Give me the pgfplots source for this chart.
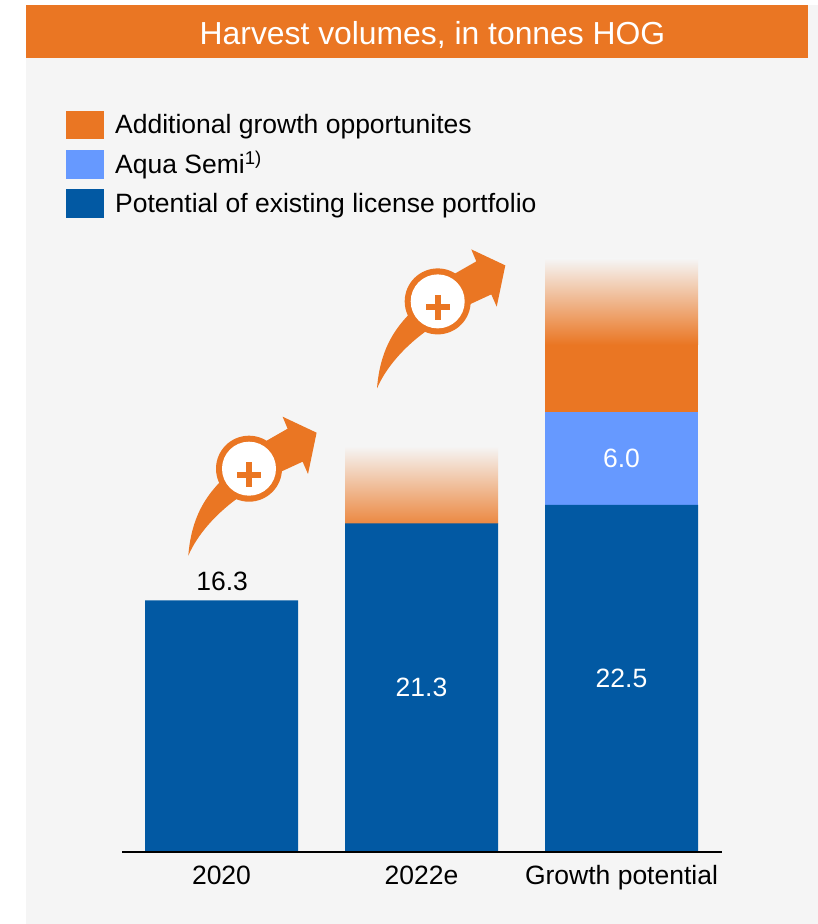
\documentclass[border=0pt]{standalone}
\usepackage{pgfplots}
\pgfplotsset{compat=1.18}
\usepackage{fontspec}
\setmainfont{Liberation Sans}
\definecolor{hvorange}{HTML}{EA7623}
\definecolor{hvblue}{HTML}{0259A3}
\definecolor{hvsky}{HTML}{6699FF}
\definecolor{hvpanel}{HTML}{F5F5F5}
\newcommand{\labelfont}{\fontsize{26.5}{30}\selectfont}
% Curved growth arrow with a plus badge, anchored at its tail tip
\newcommand{\growtharrow}[2]{%
  \begin{scope}[shift={(#1,#2)}]
    \fill[hvorange] (0,0)
      .. controls (3,38) and (17,58) .. (31,73)
      -- (60.7,87) -- (78.3,115) -- (99.3,127) -- (94.3,139) -- (128.3,123)
      -- (119.7,81.7) -- (114.3,94) -- (93.3,84.3) -- (47.7,56.3)
      .. controls (27,41) and (9,21) .. (0,0) -- cycle;
    \fill[hvorange] (60.7,87) circle[radius=33];
    \fill[white] (60.7,87) circle[radius=27];
    \fill[hvorange] (48.5,77.9) rectangle (72.9,84.1);
    \fill[hvorange] (57.6,68.8) rectangle (63.8,93.2);
  \end{scope}}
\pgfplotsset{hvframe/.style={
    at={(122pt,72pt)}, anchor=south west,
    scale only axis, width=600pt, height=664pt,
    xmin=-0.4975, xmax=2.5025, ymin=0, ymax=43.03}}
\begin{document}
\begin{tikzpicture}[x=1pt,y=1pt]
  \useasboundingbox (0,0) rectangle (818,924);
  \fill[white] (0,0) rectangle (818,924);
  \fill[hvpanel] (26,0) rectangle (818,919);
  \fill[hvorange] (26,866) rectangle (808,919);
  \node[anchor=base,inner sep=0,text=white,font=\fontsize{31.85}{36}\selectfont] at (432.5,879) {Harvest volumes, in tonnes HOG};

  % Legend
  \fill[hvorange] (66,784.5) rectangle (104,813);
  \fill[hvsky] (66,745) rectangle (104,774);
  \fill[hvblue] (66,706) rectangle (104,735);
  \node[anchor=base west,inner sep=0,font=\labelfont] at (115,790) {Additional growth opportunites};
  \node[anchor=base west,inner sep=0,font=\labelfont] at (115,750.5) {Aqua Semi\textsuperscript{1)}};
  \node[anchor=base west,inner sep=0,font=\labelfont] at (115,711) {Potential of existing license portfolio};

  \begin{axis}[
    hvframe,
    ybar stacked, bar width=153pt,
    axis line style={draw=none},
    hide y axis,
    axis x line*=bottom,
    xtick={0,1,2}, xticklabels={2020,2022e,Growth potential},
    xtick style={draw=none},
    x tick label style={font=\labelfont,text=black,inner sep=0,anchor=base,yshift=-32pt},
    clip=false,
  ]
    % Existing licence portfolio
    \addplot[fill=hvblue,draw=none] coordinates {(0,16.3) (1,21.3) (2,22.5)};
    % Aqua Semi
    \addplot[fill=hvsky,draw=none] coordinates {(0,0) (1,0) (2,6.0)};
    % Solid part of the additional growth block
    \addplot[fill=hvorange,draw=none] coordinates {(0,0) (1,0) (2,4.36)};
    % Fading top of the additional growth blocks
    \addplot[draw=none,shade,bottom color=hvorange!85!hvpanel,top color=hvpanel] coordinates {(0,0) (1,5.0) (2,0)};
    \addplot[draw=none,shade,bottom color=hvorange,top color=hvpanel] coordinates {(0,0) (1,0) (2,5.6)};
  \end{axis}

  % Value labels, in a second axis so that they lie above the bars
  \begin{axis}[hvframe, hide axis, clip=false]
    \node[text=white,font=\labelfont] at (axis cs:1,10.65) {21.3};
    \node[text=white,font=\labelfont] at (axis cs:2,11.25) {22.5};
    \node[text=white,font=\labelfont] at (axis cs:2,25.5) {6.0};
    \node[text=black,font=\labelfont,anchor=base,inner sep=0] at (axis cs:0.003,16.95) {16.3};
  \end{axis}

  \draw[black,line width=2pt] (122,72) -- (722,72);
  \growtharrow{188.3}{368.3}
  \growtharrow{377}{535.6}
\end{tikzpicture}
\end{document}
